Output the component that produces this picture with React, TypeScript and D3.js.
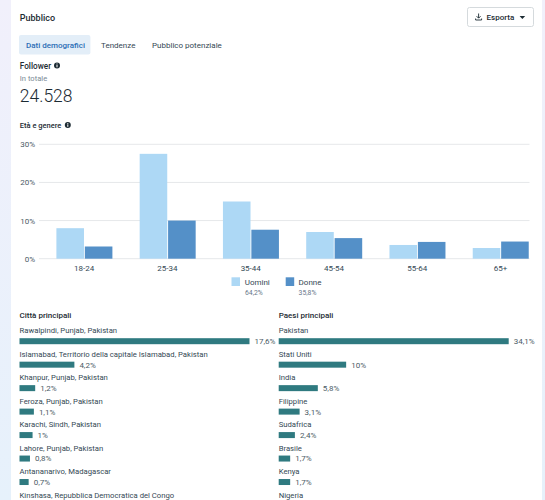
import React from 'react';
import * as d3 from 'd3';

const ages = ['18-24', '25-34', '35-44', '45-54', '55-64', '65+'];
const men = [8, 27.5, 15, 7, 3.6, 2.8];
const women = [3.2, 10, 7.6, 5.4, 4.4, 4.5];
const yTicks = [0, 10, 20, 30];

const cities = [
  'Rawalpindi, Punjab, Pakistan',
  'Islamabad, Territorio della capitale Islamabad, Pakistan',
  'Khanpur, Punjab, Pakistan',
  'Feroza, Punjab, Pakistan',
  'Karachi, Sindh, Pakistan',
  'Lahore, Punjab, Pakistan',
  'Antananarivo, Madagascar',
  'Kinshasa, Repubblica Democratica del Congo',
];
// the last row's bar falls below the edge of the screenshot, so it has no value
const cityValues = [17.6, 4.2, 1.2, 1.1, 1, 0.8, 0.7];

const countries = ['Pakistan', 'Stati Uniti', 'India', 'Filippine', 'Sudafrica', 'Brasile', 'Kenya', 'Nigeria'];
const countryValues = [34.1, 10, 5.8, 3.1, 2.4, 1.7, 1.7];

const tabs = ['Dati demografici', 'Tendenze', 'Pubblico potenziale'];

const font = 'Roboto, "Noto Sans", sans-serif';
const ink = '#1c2b33';
const grey = '#4b5b66';

// comma decimal, as in the source
const pct = (v: number) => `${String(v).replace('.', ',')}%`;

const InfoIcon = ({ x, y }: { x: number; y: number }) => (
  <g>
    <circle cx={x} cy={y} r={3} fill={ink} />
    <rect x={x - 0.5} y={y - 0.6} width={1} height={2.4} fill="#fff" />
    <rect x={x - 0.5} y={y - 2} width={1} height={0.9} fill="#fff" />
  </g>
);

const BarList = ({ x, title, labels, values }: { x: number; title: string; labels: string[]; values: number[] }) => {
  const scale = d3.scaleLinear().domain([0, d3.max(values) as number]).range([0, 230]);
  const rowY = d3.scaleLinear().domain([0, 1]).range([330.7, 354.17]);
  return (
    <g fontFamily={font}>
      <text x={x} y={318} fontSize={8} fontWeight={500} fill={ink}>{title}</text>
      {labels.map((label, i) => (
        <g key={label}>
          <text x={x} y={rowY(i) + 2.6} fontSize={7.7} fill="#344854">{label}</text>
          {values[i] !== undefined && (
            <>
              <rect x={x} y={rowY(i) + 7.5} width={scale(values[i])} height={6} fill="#2f7a80" />
              <text x={x + scale(values[i]) + 5} y={rowY(i) + 13.4} fontSize={8} fill={grey}>{pct(values[i])}</text>
            </>
          )}
        </g>
      ))}
    </g>
  );
};

export default function App() {
  const x0 = d3.scaleBand<string>().domain(ages).range([42.4, 542]);
  const x1 = d3.scaleBand<string>().domain(['men', 'women']).range([14, 70]).paddingInner(0.03);
  const y = d3.scaleLinear().domain([0, 30]).range([258.7, 144.3]);

  return (
    <svg
      width={545}
      height={500}
      viewBox="0 0 545 500"
      style={{ position: 'fixed', left: 0, top: 0, display: 'block' }}
    >
      <defs>
        <linearGradient id="page" x1="0" y1="0" x2="0" y2="1">
          <stop offset="0" stopColor="#f1f0fb" />
          <stop offset="1" stopColor="#e6f1fb" />
        </linearGradient>
      </defs>
      <rect width={545} height={500} fill="url(#page)" />
      <rect x={11} y={-6} width={531} height={520} fill="#fff" />

      <g fontFamily={font}>
        <text x={19.8} y={21} fontSize={9} fontWeight={500} fill={ink}>Pubblico</text>

        <rect x={467.5} y={7.5} width={66} height={19} rx={2} fill="#fff" stroke="#d5dadd" />
        <path d="M478.6 13.5v4.5M476.6 16.2l2 2 2-2M475.6 18.5v1.5h6v-1.5" fill="none" stroke={ink} strokeWidth={0.9} />
        <text x={486.6} y={20.3} fontSize={8} fontWeight={500} fill={ink}>Esporta</text>
        <path d="M519.6 16h5.6l-2.8 3z" fill={ink} />

        <rect x={19} y={35} width={71.4} height={19.5} rx={2} fill="#e3eef8" />
        <text x={26} y={48} fontSize={8} fontWeight={500} fill="#2a6db5">{tabs[0]}</text>
        <text x={101} y={48} fontSize={8} fill="#344854">{tabs[1]}</text>
        <text x={152} y={48} fontSize={8} fill="#344854">{tabs[2]}</text>

        <text x={19.8} y={68.5} fontSize={8.2} fontWeight={500} fill={ink}>Follower</text>
        <InfoIcon x={57} y={65.5} />
        <text x={19.8} y={81} fontSize={7.6} fill="#7b8a96">In totale</text>
        <text x={19.8} y={101.5} fontSize={17.5} fontWeight={300} fill={ink}>24.528</text>

        <text x={19.8} y={128} fontSize={7.5} fontWeight={500} fill={ink}>Età e genere</text>
        <InfoIcon x={67.8} y={125} />

        {yTicks.map(t => (
          <g key={t}>
            <line x1={39} x2={529.5} y1={y(t)} y2={y(t)} stroke="#e6e8ea" strokeWidth={1} />
            <text x={35} y={y(t) + 3} textAnchor="end" fontSize={8} fill="#4b5b66">{t}%</text>
          </g>
        ))}

        {ages.map((age, i) => {
          const gx = x0(age) as number;
          return (
            <g key={age}>
              <rect x={gx + (x1('men') as number)} y={y(men[i])} width={x1.bandwidth()} height={y(0) - y(men[i])} fill="#add8f5" />
              <rect x={gx + (x1('women') as number)} y={y(women[i])} width={x1.bandwidth()} height={y(0) - y(women[i])} fill="#5490c8" />
              <text x={gx + 41.8} y={270.5} textAnchor="middle" fontSize={8} fill="#344854">{age}</text>
            </g>
          );
        })}

        <rect x={231.5} y={277.3} width={8.5} height={8.7} fill="#add8f5" />
        <text x={244.7} y={284.7} fontSize={8} fill="#344854">Uomini</text>
        <text x={245} y={294.5} fontSize={6.8} fill="#67788a">64,2%</text>
        <rect x={285.7} y={277.3} width={8.5} height={8.7} fill="#5490c8" />
        <text x={298.6} y={284.7} fontSize={8} fill="#344854">Donne</text>
        <text x={298.6} y={294.5} fontSize={6.8} fill="#67788a">35,8%</text>
      </g>

      <BarList x={19.5} title="Città principali" labels={cities} values={cityValues} />
      <BarList x={278.7} title="Paesi principali" labels={countries} values={countryValues} />
    </svg>
  );
}
